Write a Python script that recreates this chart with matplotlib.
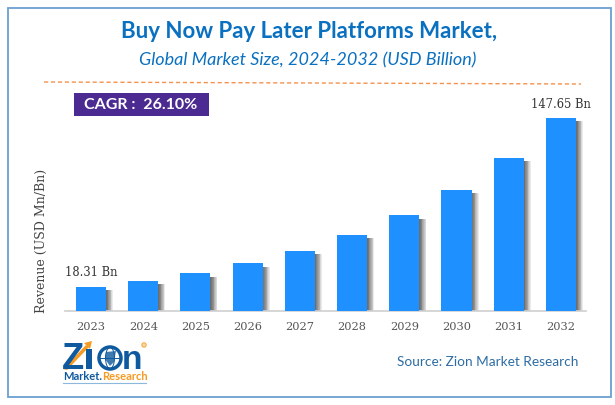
import matplotlib
matplotlib.use("Agg")
import matplotlib.pyplot as plt
from matplotlib.patches import Circle, Ellipse, Polygon, Rectangle

years = ["2023", "2024", "2025", "2026", "2027", "2028", "2029", "2030", "2031", "2032"]
revenue = [18.31, 23.0, 28.8, 36.5, 45.8, 58.0, 73.2, 92.6, 117.0, 147.65]
first_label = "18.31 Bn"
last_label = "147.65 Bn"

W, H = 615, 405
BAR_BLUE = "#1e90ff"
TITLE_BLUE = "#0a70c0"
SERIF = "DejaVu Serif"

fig = plt.figure(figsize=(W / 100, H / 100), dpi=100, facecolor="white")

# overlay in pixel coordinates for frame, titles and logo
bg = fig.add_axes([0, 0, 1, 1], zorder=0)
bg.set_xlim(0, W)
bg.set_ylim(H, 0)
bg.axis("off")

bg.add_patch(Rectangle((7.5, 8), 603, 389, fill=False, ec="#6a9fcf", lw=1.3))
bg.text(309, 32, "Buy Now Pay Later Platforms Market,", ha="center", va="center",
        family="Lato", weight="bold", fontsize=16, color=TITLE_BLUE)
bg.text(308, 60, "Global Market Size, 2024-2032 (USD Billion)", ha="center", va="center",
        family="Lato", style="italic", fontsize=13, color=TITLE_BLUE)
bg.plot([44, 581], [82, 84], color="#f5924e", lw=1, ls=(0, (3, 2)))

bg.add_patch(Rectangle((74, 93), 135, 23, fc="#4b2a92", ec="none"))
bg.text(141, 105, "CAGR :  26.10%", ha="center", va="center",
        family="Lato", weight="bold", fontsize=11.5, color="white")

bg.text(488, 362, "Source: Zion Market Research", ha="center", va="center",
        family="Lato", fontsize=9.8, color="#2e6da4")

# logo
logo_blue = "#0f5a9e"
bg.text(62, 369, "Z", ha="left", va="baseline", family="Liberation Sans", weight="bold",
        fontsize=26, color=logo_blue)
bg.add_patch(Polygon([[63, 369], [86, 345], [89, 347], [67, 370]], fc="#f59a23", ec="none"))
bg.add_patch(Polygon([[84, 343], [92, 341], [90, 349]], fc="#f59a23", ec="none"))
bg.add_patch(Rectangle((86, 349), 6, 20, fc=logo_blue, ec="none"))
bg.add_patch(Circle((110, 358), 11, fc="white", ec=logo_blue, lw=2.5))
bg.add_patch(Ellipse((110, 358), 9, 21, fill=False, ec=logo_blue, lw=0.7))
bg.plot([99, 121], [358, 358], color=logo_blue, lw=0.7)
bg.add_patch(Polygon([[106, 352], [116, 351], [114, 362], [110, 366], [105, 359]], fc=logo_blue, ec="none", alpha=0.8))
bg.text(122, 369, "n", ha="left", va="baseline", family="Liberation Sans", weight="bold",
        fontsize=24, color=logo_blue)
bg.add_patch(Circle((144, 345), 2.2, fc="#f8d8a8", ec="#f59a23", lw=0.6))
bg.text(63, 377, "Market.", ha="left", va="center", family="Lato", weight="bold",
        fontsize=8, color=logo_blue)
bg.text(102, 377, "Research", ha="left", va="center", family="Lato", weight="bold",
        fontsize=8, color="#f59a23")
bg.plot([63, 146], [382.5, 382.5], color="#8db8dd", lw=0.8)

# bar chart, limits chosen so the baseline lands at y=311px
ax = fig.add_axes([65 / W, 1 - 311 / H, 521 / W, 211 / H], zorder=1)
ax.patch.set_alpha(0)
x = list(range(len(years)))
ax.set_xlim(-0.498, 9.48)
ax.set_ylim(0, 161.4)

# soft shadow: faint bars shifted right, stacking darker close to the bar
for k in range(1, 10):
    shift = 0.015 * k
    ax.bar([i + shift for i in x], [max(v - 2.5, 0) for v in revenue], width=0.575,
           color="#444444", alpha=0.10 + 0.012 * (9 - k), lw=0)
ax.bar(x, revenue, width=0.575, color=BAR_BLUE, lw=0, zorder=3)

for s in ["top", "left", "right"]:
    ax.spines[s].set_visible(False)
ax.spines["bottom"].set_color("#cfcfcf")
ax.spines["bottom"].set_linewidth(1.2)
ax.set_yticks([])
ax.set_xticks(x)
ax.set_xticklabels(years, family=SERIF, fontsize=8.2, color="#555555")
ax.tick_params(axis="x", length=0, pad=8)
ax.set_ylabel("Revenue (USD Mn/Bn)", family=SERIF, fontsize=9, color="#444444")
ax.yaxis.set_label_coords(-0.033, 0.33)

ax.annotate(first_label, (x[0], revenue[0]), xytext=(0, 6), textcoords="offset points",
            ha="center", va="bottom", family=SERIF, fontsize=8.3, color="#333333")
ax.annotate(last_label, (x[-1], revenue[-1]), xytext=(0, 5), textcoords="offset points",
            ha="center", va="bottom", family=SERIF, fontsize=8.3, color="#333333")

fig.savefig("out.png", dpi=100)
